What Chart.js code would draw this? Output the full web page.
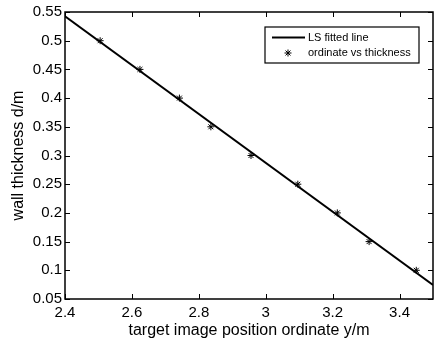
<!DOCTYPE html>
<html>
<head>
<meta charset="utf-8">
<script src="https://cdn.jsdelivr.net/npm/chart.js@4.4.1/dist/chart.umd.min.js"></script>
<style>
  html, body { margin: 0; padding: 0; background: #fff; }
  #wallChart { display: block; }
</style>
</head>
<body>
<canvas id="wallChart" width="439" height="344"></canvas>
<script>
// measured points: target image ordinate (m) vs wall thickness (m)
var ordinate  = [2.505, 2.624, 2.742, 2.836, 2.956, 3.096, 3.214, 3.309, 3.450];
var thickness = [0.50, 0.45, 0.40, 0.35, 0.30, 0.25, 0.20, 0.15, 0.10];

// least squares line, evaluated at the axis ends
var fitX = [2.4, 3.5];
var fitY = [0.5426, 0.0746];

var xTicks = [2.4, 2.6, 2.8, 3.0, 3.2, 3.4];
var yTicks = [0.05, 0.1, 0.15, 0.2, 0.25, 0.3, 0.35, 0.4, 0.45, 0.5, 0.55];

var seriesNames = ['LS fitted line', 'ordinate vs thickness'];

Chart.defaults.font.family = "'Liberation Sans', Arial, Helvetica, sans-serif";
Chart.defaults.color = '#000';

function toPoints(xs, ys) {
  return xs.map(function (x, i) { return { x: x, y: ys[i] }; });
}
function fmt(v) { return String(+v.toFixed(2)); }

// matlab style box with inward ticks on all four sides
var boxFrame = {
  id: 'boxFrame',
  afterDatasetsDraw: function (chart) {
    var ctx = chart.ctx, a = chart.chartArea;
    var xs = chart.scales.x, ys = chart.scales.y, tl = 5;
    ctx.save();
    ctx.strokeStyle = '#000';
    ctx.lineWidth = 1;
    ctx.beginPath();
    xTicks.forEach(function (v) {
      var px = Math.round(xs.getPixelForValue(v)) + 0.5;
      ctx.moveTo(px, a.bottom); ctx.lineTo(px, a.bottom - tl);
      ctx.moveTo(px, a.top); ctx.lineTo(px, a.top + tl);
    });
    yTicks.forEach(function (v) {
      var py = Math.round(ys.getPixelForValue(v)) + 0.5;
      ctx.moveTo(a.left, py); ctx.lineTo(a.left + tl, py);
      ctx.moveTo(a.right, py); ctx.lineTo(a.right - tl, py);
    });
    ctx.stroke();
    ctx.lineWidth = 1.5;
    ctx.strokeRect(a.left, a.top, a.right - a.left, a.bottom - a.top);
    ctx.restore();
  }
};

// boxed legend in the upper right of the axes
var boxLegend = {
  id: 'boxLegend',
  afterDraw: function (chart) {
    var ctx = chart.ctx, a = chart.chartArea;
    var w = 154, h = 36;
    var x0 = a.right - 14 - w, y0 = a.top + 15;
    var fit = chart.data.datasets[0], pts = chart.data.datasets[1];
    ctx.save();
    ctx.fillStyle = '#fff';
    ctx.fillRect(x0, y0, w, h);
    ctx.strokeStyle = '#000';
    ctx.lineWidth = 1.2;
    ctx.strokeRect(x0, y0, w, h);

    ctx.strokeStyle = fit.borderColor;
    ctx.lineWidth = fit.borderWidth;
    ctx.beginPath();
    ctx.moveTo(x0 + 7, y0 + 10.5);
    ctx.lineTo(x0 + 40, y0 + 10.5);
    ctx.stroke();

    ctx.strokeStyle = pts.borderColor;
    ctx.lineWidth = pts.borderWidth;
    Chart.helpers.drawPoint(ctx, {
      pointStyle: pts.pointStyle, radius: pts.pointRadius,
      rotation: 0, borderWidth: pts.borderWidth
    }, x0 + 23, y0 + 26);

    ctx.fillStyle = '#000';
    ctx.font = "11px 'Liberation Sans', Arial, sans-serif";
    ctx.textBaseline = 'middle';
    ctx.textAlign = 'left';
    ctx.fillText(seriesNames[0], x0 + 43, y0 + 10.5);
    ctx.fillText(seriesNames[1], x0 + 43, y0 + 26);
    ctx.restore();
  }
};

new Chart(document.getElementById('wallChart'), {
  type: 'scatter',
  data: {
    datasets: [{
      label: seriesNames[0],
      data: toPoints(fitX, fitY),
      showLine: true,
      borderColor: '#000',
      borderWidth: 2,
      pointRadius: 0,
      fill: false
    }, {
      label: seriesNames[1],
      data: toPoints(ordinate, thickness),
      showLine: false,
      pointStyle: 'star',
      pointRadius: 3.5,
      borderColor: '#000',
      backgroundColor: '#000',
      borderWidth: 1
    }]
  },
  options: {
    responsive: false,
    animation: false,
    layout: { padding: { top: 8, right: 6, left: 0, bottom: 0 } },
    plugins: {
      legend: { display: false },
      tooltip: { enabled: false }
    },
    scales: {
      x: {
        type: 'linear',
        min: 2.4,
        max: 3.5,
        afterBuildTicks: function (s) { s.ticks = xTicks.map(function (v) { return { value: v }; }); },
        afterFit: function (s) { s.height = 45; },
        grid: { display: false, drawTicks: false },
        border: { display: false },
        ticks: { font: { size: 15 }, padding: 5, maxRotation: 0, callback: fmt },
        title: {
          display: true,
          text: 'target image position ordinate y/m',
          font: { size: 16 },
          padding: { top: 0, bottom: 4 }
        }
      },
      y: {
        type: 'linear',
        min: 0.05,
        max: 0.55,
        afterBuildTicks: function (s) { s.ticks = yTicks.map(function (v) { return { value: v }; }); },
        afterFit: function (s) { s.width = 65; },
        grid: { display: false, drawTicks: false },
        border: { display: false },
        ticks: { font: { size: 15 }, padding: 3, callback: fmt },
        title: {
          display: true,
          text: 'wall thickness d/m',
          font: { size: 16 },
          padding: { top: 9, bottom: 0 }
        }
      }
    }
  },
  plugins: [boxFrame, boxLegend]
});
</script>
</body>
</html>
